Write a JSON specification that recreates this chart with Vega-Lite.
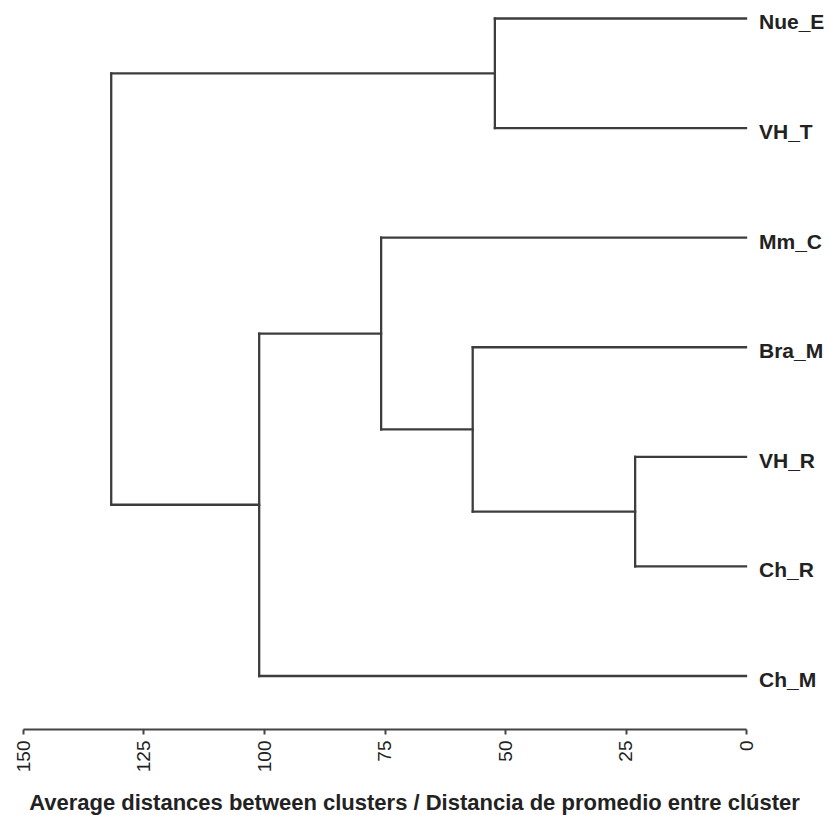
{
  "$schema": "https://vega.github.io/schema/vega-lite/v6.json",
  "width": 723,
  "height": 729,
  "autosize": {"type": "none"},
  "padding": {"left": 23, "top": 0, "right": 82, "bottom": 86},
  "background": "white",
  "config": {"view": {"stroke": null}},
  "datasets": {
    "segments": [
      {"x": 0, "x2": 52.1, "y": 0, "y2": 0},
      {"x": 0, "x2": 52.1, "y": 1, "y2": 1},
      {"x": 0, "x2": 75.7, "y": 2, "y2": 2},
      {"x": 0, "x2": 56.7, "y": 3, "y2": 3},
      {"x": 0, "x2": 23.0, "y": 4, "y2": 4},
      {"x": 0, "x2": 23.0, "y": 5, "y2": 5},
      {"x": 0, "x2": 101.0, "y": 6, "y2": 6},
      {"x": 52.1, "x2": 52.1, "y": 0, "y2": 1},
      {"x": 23.0, "x2": 23.0, "y": 4, "y2": 5},
      {"x": 56.7, "x2": 56.7, "y": 3, "y2": 4.5},
      {"x": 75.7, "x2": 75.7, "y": 2, "y2": 3.75},
      {"x": 101.0, "x2": 101.0, "y": 2.875, "y2": 6},
      {"x": 131.7, "x2": 131.7, "y": 0.5, "y2": 4.4375},
      {"x": 52.1, "x2": 131.7, "y": 0.5, "y2": 0.5},
      {"x": 23.0, "x2": 56.7, "y": 4.5, "y2": 4.5},
      {"x": 56.7, "x2": 75.7, "y": 3.75, "y2": 3.75},
      {"x": 75.7, "x2": 101.0, "y": 2.875, "y2": 2.875},
      {"x": 101.0, "x2": 131.7, "y": 4.4375, "y2": 4.4375}
    ],
    "leaves": [
      {"label": "Nue_E", "pos": 0, "dist": 0},
      {"label": "VH_T", "pos": 1, "dist": 0},
      {"label": "Mm_C", "pos": 2, "dist": 0},
      {"label": "Bra_M", "pos": 3, "dist": 0},
      {"label": "VH_R", "pos": 4, "dist": 0},
      {"label": "Ch_R", "pos": 5, "dist": 0},
      {"label": "Ch_M", "pos": 6, "dist": 0}
    ]
  },
  "layer": [
    {
      "data": {"name": "segments"},
      "mark": {"type": "rule", "color": "#3d3d3d", "strokeWidth": 2.3, "strokeCap": "square"},
      "encoding": {
        "x": {
          "field": "x", "type": "quantitative",
          "scale": {"domain": [0, 150], "reverse": true, "nice": false, "zero": false},
          "axis": {
            "values": [0, 25, 50, 75, 100, 125, 150],
            "grid": false,
            "domainColor": "#444444",
            "domainWidth": 2,
            "tickColor": "#444444",
            "tickWidth": 2,
            "tickSize": 5,
            "labelAngle": -90,
            "labelPadding": 6,
            "labelFont": "Liberation Sans",
            "labelFontSize": 19,
            "labelColor": "#222222",
            "labelFlush": false,
            "title": "Average distances between clusters / Distancia de promedio entre clúster",
            "titleFont": "Liberation Sans",
            "titleFontSize": 22,
            "titleFontWeight": "bold",
            "titleColor": "#222222",
            "titleX": 391,
            "titleY": 80,
            "titleAlign": "center",
            "titleBaseline": "alphabetic"
          }
        },
        "x2": {"field": "x2"},
        "y": {
          "field": "y", "type": "quantitative",
          "scale": {"domain": [-0.1688, 6.4837], "reverse": true, "nice": false, "zero": false},
          "axis": null
        },
        "y2": {"field": "y2"}
      }
    },
    {
      "data": {"name": "leaves"},
      "mark": {
        "type": "text", "align": "left", "baseline": "middle", "dx": 13, "dy": 5,
        "font": "Liberation Sans",
        "fontSize": 21, "fontWeight": "bold", "color": "#222222"
      },
      "encoding": {
        "x": {"field": "dist", "type": "quantitative"},
        "y": {"field": "pos", "type": "quantitative"},
        "text": {"field": "label", "type": "nominal"}
      }
    }
  ]
}
